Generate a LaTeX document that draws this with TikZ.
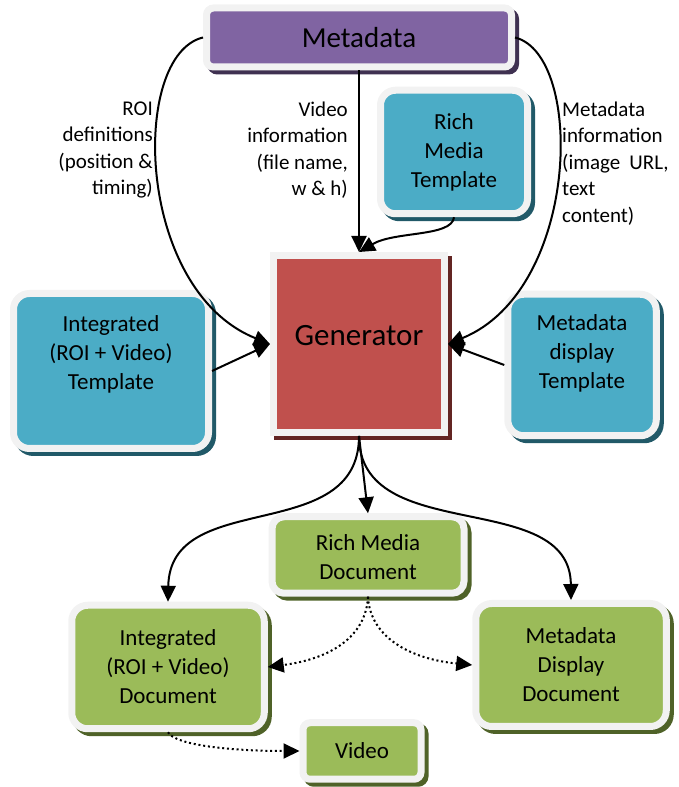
\documentclass[tikz,border=0pt]{standalone}
\usepackage{fontspec}
\setmainfont{Carlito}
\usepackage{tikz}
\usetikzlibrary{arrows.meta}

\definecolor{metaPurple}{HTML}{8064A2}
\definecolor{metaShade}{HTML}{3F3151}
\definecolor{tmplTeal}{HTML}{4BACC6}
\definecolor{tmplShade}{HTML}{215968}
\definecolor{genRed}{HTML}{C0504D}
\definecolor{genShade}{HTML}{632523}
\definecolor{docGreen}{HTML}{9BBB59}
\definecolor{docShade}{HTML}{4F6228}
\definecolor{rimGray}{HTML}{F2F2F2}

% text block sitting higher (or lower) than the box centre
\newcommand{\liftlines}[2]{\raisebox{#1}[\height][\depth]{\begin{tabular}{@{}c@{}}#2\end{tabular}}}

\begin{document}
\begin{tikzpicture}[x=1pt, y=1pt,
		box/.style 2 args={draw=rimGray, line width=7pt, fill=#1, align=center, inner sep=0pt,
			preaction={draw=#2, fill=#2, line width=7pt, transform canvas={shift={(4pt,-4pt)}}}},
		boxfont/.style={font=\fontsize{23}{29}\selectfont},
		infofont/.style={font=\fontsize{21}{26.5}\selectfont, inner sep=0pt},
		flow/.style={line width=2pt, -{Triangle[length=16pt, width=15pt]}},
		hint/.style={flow, dash pattern=on 2pt off 2.8pt}]
	\useasboundingbox (0,0) rectangle (678,787);

	% sources
	\node[box={metaPurple}{metaShade}, rounded corners=7pt, minimum width=305pt, minimum height=59pt,
		font=\fontsize{29}{34}\selectfont] (meta) at (359,749.5) {Metadata};
	\node[box={genRed}{genShade}, minimum width=171pt, minimum height=177pt,
		font=\fontsize{31}{36}\selectfont] (gen) at (359,443) {\liftlines{6pt}{Generator}};

	% templates
	\node[box={tmplTeal}{tmplShade}, boxfont, rounded corners=15pt, minimum width=147pt, minimum height=123.5pt]
		(rmt) at (454,635) {Rich\\Media\\Template};
	\node[box={tmplTeal}{tmplShade}, boxfont, rounded corners=16pt, minimum width=195pt, minimum height=155pt]
		(imt) at (111,416) {\liftlines{16pt}{Integrated\\(ROI + Video)\\Template}};
	\node[box={tmplTeal}{tmplShade}, boxfont, rounded corners=16pt, minimum width=148.5pt, minimum height=141.5pt]
		(mdt) at (582,422) {\liftlines{11pt}{Metadata\\display\\Template}};

	% documents
	\node[box={docGreen}{docShade}, boxfont, rounded corners=12pt, minimum width=192pt, minimum height=76.5pt]
		(rmd) at (368,232) {\liftlines{-4pt}{Rich Media\\Document}};
	\node[box={docGreen}{docShade}, boxfont, rounded corners=16pt, minimum width=192.5pt, minimum height=123.5pt]
		(imd) at (168,120) {Integrated\\(ROI + Video)\\Document};
	\node[box={docGreen}{docShade}, boxfont, rounded corners=16pt, minimum width=190.5pt, minimum height=123pt]
		(mdd) at (571,122) {Metadata\\Display\\Document};
	\node[box={docGreen}{docShade}, boxfont, rounded corners=7pt, minimum width=118pt, minimum height=56.5pt]
		(vid) at (362,36) {Video};

	% what goes into the generator
	\node[infofont, align=right, anchor=east] (roiinfo) at (153,637) {ROI\\definitions\\(position \&\\timing)};
	\node[infofont, align=right, anchor=east] (vidinfo) at (348,637) {Video\\information\\(file name,\\w \& h)};
	\node[infofont, align=left, anchor=west] (metainfo) at (562,623.5)
		{Metadata\\information\\(image\hspace{9pt}URL,\\text\\content)};

	\draw[flow] (meta.south) -- (gen.north);
	\draw[flow] (meta.west) .. controls (130,732) and (135,497) .. (gen.west);
	\draw[flow] (meta.east) .. controls (585,732) and (580,497) .. (gen.east);
	\draw[flow] (rmt.south) .. controls (452,550) and (395,556) .. (gen.north);
	\draw[flow] (imt.east) -- (gen.west);
	\draw[flow] (mdt.west) -- (gen.east);

	% what comes out of it
	\draw[flow] (gen.south) -- (rmd.north);
	\draw[flow] (gen.south) .. controls (359,240) and (170,300) .. (imd.north);
	\draw[flow] (gen.south) .. controls (359,240) and (570,300) .. (mdd.north);
	\draw[hint] (rmd.south) .. controls (366,150) and (330,128) .. (imd.east);
	\draw[hint] (rmd.south) .. controls (370,150) and (410,128) .. (mdd.west);
	\draw[hint] (imd.south) .. controls (175,42) and (230,36) .. (vid.west);
\end{tikzpicture}
\end{document}
